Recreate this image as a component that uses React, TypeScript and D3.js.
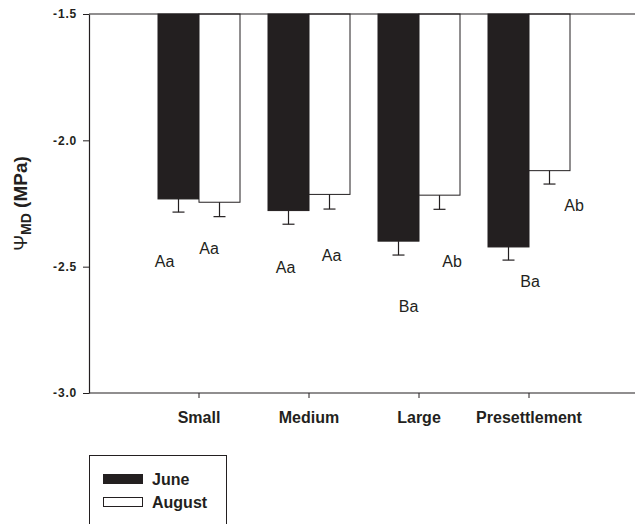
import React, { useEffect, useRef } from "react";
import * as d3 from "d3";

// Midday water potential by site, two months
const categories = ["Small", "Medium", "Large", "Presettlement"];
const months = ["June", "August"];
const juneValues = [-2.232, -2.278, -2.399, -2.422];
const juneErrors = [0.052, 0.054, 0.055, 0.052];
const augustValues = [-2.245, -2.214, -2.217, -2.12];
const augustErrors = [0.057, 0.058, 0.056, 0.053];
const juneLetters = ["Aa", "Aa", "Ba", "Ba"];
const augustLetters = ["Aa", "Aa", "Ab", "Ab"];
const yTicks = [-1.5, -2.0, -2.5, -3.0];

// where the letters sit relative to each bar (px): dx from bar centre, dy below the error cap
const letterOffsets = {
  June: [
    [-14, 55],
    [-3, 49],
    [10, 56.5],
    [21.5, 26.5],
  ],
  August: [
    [-10.5, 37],
    [2, 52],
    [12.5, 58],
    [24.5, 27],
  ],
};

const width = 635;
const height = 524;
const margin = { top: 14, right: 0, bottom: 131, left: 89 };
const ink = "#231f20";
const font = "'Liberation Sans', Arial, Helvetica, sans-serif";

export default function App() {
  const ref = useRef<SVGSVGElement>(null);

  useEffect(() => {
    const svg = d3.select(ref.current);
    svg.selectAll("*").remove();

    const y = d3
      .scaleLinear()
      .domain([-1.5, -3.0])
      .range([margin.top, height - margin.bottom]);

    const x = d3
      .scaleBand<string>()
      .domain(categories)
      .range([144, 584])
      .padding(0);

    const inner = d3.scaleBand<string>().domain(months).range([0, 82]);

    const series = [
      { key: "June", values: juneValues, errors: juneErrors, letters: juneLetters, fill: ink },
      { key: "August", values: augustValues, errors: augustErrors, letters: augustLetters, fill: "#fff" },
    ];

    const left = margin.left;
    const right = width - margin.right;

    // bars hanging from -1.5
    const g = svg.append("g");
    series.forEach((s) => {
      categories.forEach((c, i) => {
        const x0 = x(c)! + x.bandwidth() / 2 - 41 + inner(s.key)!;
        const bw = inner.bandwidth();
        const cx = x0 + bw / 2;
        g.append("rect")
          .attr("x", x0)
          .attr("y", y(-1.5))
          .attr("width", bw)
          .attr("height", y(s.values[i]) - y(-1.5))
          .attr("fill", s.fill)
          .attr("stroke", ink)
          .attr("stroke-width", 1);
        const capY = y(s.values[i] - s.errors[i]);
        g.append("line")
          .attr("x1", cx)
          .attr("x2", cx)
          .attr("y1", y(s.values[i]))
          .attr("y2", capY)
          .attr("stroke", ink)
          .attr("stroke-width", 1.2);
        g.append("line")
          .attr("x1", cx - 6)
          .attr("x2", cx + 6)
          .attr("y1", capY)
          .attr("y2", capY)
          .attr("stroke", ink)
          .attr("stroke-width", 1.2);
        const [dx, dy] = (letterOffsets as any)[s.key][i];
        g.append("text")
          .attr("x", cx + dx)
          .attr("y", capY + dy)
          .attr("text-anchor", "middle")
          .attr("font-family", font)
          .attr("font-size", 16)
          .attr("fill", ink)
          .text(s.letters[i]);
      });
    });

    // frame lines
    svg
      .append("line")
      .attr("x1", left)
      .attr("x2", right)
      .attr("y1", y(-1.5))
      .attr("y2", y(-1.5))
      .attr("stroke", ink)
      .attr("stroke-width", 1.2);
    svg
      .append("line")
      .attr("x1", left)
      .attr("x2", right)
      .attr("y1", y(-3.0))
      .attr("y2", y(-3.0))
      .attr("stroke", ink)
      .attr("stroke-width", 1.2);

    // y axis
    const yAxis = svg
      .append("g")
      .attr("transform", `translate(${left},0)`)
      .call(
        d3
          .axisLeft(y)
          .tickValues(yTicks)
          .tickFormat((d) => (d as number).toFixed(1))
          .tickSize(6)
          .tickPadding(6)
          .tickSizeOuter(0)
      );
    yAxis.select(".domain").attr("stroke", ink).attr("stroke-width", 1.2);
    yAxis.selectAll(".tick line").attr("stroke", ink);
    yAxis
      .selectAll(".tick text")
      .attr("font-family", font)
      .attr("font-size", 12)
      .attr("font-weight", "bold")
      .attr("letter-spacing", 0.8)
      .attr("fill", ink);

    // x axis
    const xAxis = svg
      .append("g")
      .attr("transform", `translate(0,${y(-3.0)})`)
      .call(d3.axisBottom(x).tickSize(5).tickPadding(14).tickSizeOuter(0));
    xAxis.select(".domain").remove();
    xAxis.selectAll(".tick line").attr("stroke", ink);
    xAxis
      .selectAll(".tick text")
      .attr("font-family", font)
      .attr("font-size", 16)
      .attr("font-weight", "bold")
      .attr("fill", ink);

    // y title
    const title = svg
      .append("text")
      .attr("transform", `translate(27,${(y(-1.5) + y(-3.0)) / 2 + 0})rotate(-90)`)
      .attr("text-anchor", "middle")
      .attr("font-family", font)
      .attr("font-size", 19)
      .attr("fill", ink);
    title.append("tspan").text("Ψ");
    title
      .append("tspan")
      .attr("dy", 4)
      .attr("font-size", 14)
      .attr("font-weight", "bold")
      .text("MD");
    title
      .append("tspan")
      .attr("dy", -4)
      .attr("font-weight", "bold")
      .text(" (MPa)");

    // legend
    const legend = svg.append("g");
    legend
      .append("rect")
      .attr("x", 89.5)
      .attr("y", 455.5)
      .attr("width", 137)
      .attr("height", 90)
      .attr("fill", "none")
      .attr("stroke", ink);
    series.forEach((s, i) => {
      legend
        .append("rect")
        .attr("x", 103.5)
        .attr("y", 474.5 + i * 23)
        .attr("width", 39)
        .attr("height", 9)
        .attr("fill", s.fill)
        .attr("stroke", ink);
      legend
        .append("text")
        .attr("x", 152)
        .attr("y", 485 + i * 23)
        .attr("font-family", font)
        .attr("font-size", 16)
        .attr("font-weight", "bold")
        .attr("fill", ink)
        .text(s.key);
    });
  }, []);

  return (
    <svg
      ref={ref}
      width={width}
      height={height}
      style={{ position: "absolute", left: 0, top: 0, background: "#fff" }}
    />
  );
}
